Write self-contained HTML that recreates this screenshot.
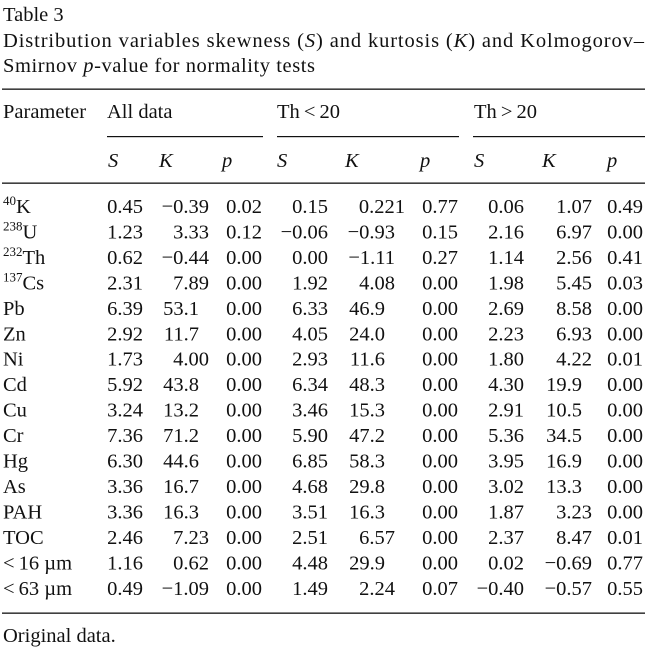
<!DOCTYPE html>
<html><head><meta charset="utf-8"><style>
html,body{margin:0;padding:0;background:#fff;}
svg{display:block;font-family:"Liberation Serif",serif;font-size:20.5px;fill:#111;}
.i{font-style:italic}
</style></head><body>
<svg width="660" height="656" viewBox="0 0 660 656" xmlns="http://www.w3.org/2000/svg">
<text x="3" y="21">Table 3</text>
<text x="3" y="47" textLength="641" lengthAdjust="spacing">Distribution variables skewness (<tspan class="i">S</tspan>) and kurtosis (<tspan class="i">K</tspan>) and Kolmogorov–</text>
<text x="3" y="72" textLength="312" lengthAdjust="spacing">Smirnov <tspan class="i">p</tspan>-value for normality tests</text>
<rect x="2" y="88.5" width="643" height="1.3" fill="#111"/>
<text x="3" y="118">Parameter</text>
<text x="107" y="118">All data</text>
<text x="277" y="118">Th&#8201;&lt;&#8201;20</text>
<text x="474" y="118">Th&#8201;&gt;&#8201;20</text>
<rect x="107" y="136" width="156" height="1.2" fill="#111"/>
<rect x="277" y="136" width="182" height="1.2" fill="#111"/>
<rect x="473" y="136" width="172" height="1.2" fill="#111"/>
<g class="i">
<text x="108" y="167">S</text><text x="159" y="167">K</text><text x="222" y="167">p</text>
<text x="277" y="167">S</text><text x="345" y="167">K</text><text x="420" y="167">p</text>
<text x="474" y="167">S</text><text x="542" y="167">K</text><text x="607" y="167">p</text>
</g>
<rect x="2" y="182.5" width="643" height="1.3" fill="#111"/>
<g id="rows"></g>
<rect x="2" y="612.5" width="643" height="1.3" fill="#111"/>
<text x="3" y="642">Original data.</text>
</svg>
<script>
var labels=['<tspan font-size="13" dy="-8">40</tspan><tspan dy="8">K</tspan>','<tspan font-size="13" dy="-8">238</tspan><tspan dy="8">U</tspan>','<tspan font-size="13" dy="-8">232</tspan><tspan dy="8">Th</tspan>','<tspan font-size="13" dy="-8">137</tspan><tspan dy="8">Cs</tspan>','Pb','Zn','Ni','Cd','Cu','Cr','Hg','As','PAH','TOC','&lt;&#8201;16 µm','&lt;&#8201;63 µm'];
var d=[
['0.45','−0.39','0.02','0.15','0.221','0.77','0.06','1.07','0.49'],
['1.23','3.33','0.12','−0.06','−0.93','0.15','2.16','6.97','0.00'],
['0.62','−0.44','0.00','0.00','−1.11','0.27','1.14','2.56','0.41'],
['2.31','7.89','0.00','1.92','4.08','0.00','1.98','5.45','0.03'],
['6.39','53.1','0.00','6.33','46.9','0.00','2.69','8.58','0.00'],
['2.92','11.7','0.00','4.05','24.0','0.00','2.23','6.93','0.00'],
['1.73','4.00','0.00','2.93','11.6','0.00','1.80','4.22','0.01'],
['5.92','43.8','0.00','6.34','48.3','0.00','4.30','19.9','0.00'],
['3.24','13.2','0.00','3.46','15.3','0.00','2.91','10.5','0.00'],
['7.36','71.2','0.00','5.90','47.2','0.00','5.36','34.5','0.00'],
['6.30','44.6','0.00','6.85','58.3','0.00','3.95','16.9','0.00'],
['3.36','16.7','0.00','4.68','29.8','0.00','3.02','13.3','0.00'],
['3.36','16.3','0.00','3.51','16.3','0.00','1.87','3.23','0.00'],
['2.46','7.23','0.00','2.51','6.57','0.00','2.37','8.47','0.01'],
['1.16','0.62','0.00','4.48','29.9','0.00','0.02','−0.69','0.77'],
['0.49','−1.09','0.00','1.49','2.24','0.07','−0.40','−0.57','0.55']];
var xs=[143,209,262,328,395,458,524,592,643];
var g=document.getElementById('rows'),h='';
for(var r=0;r<16;r++){var y=213+r*25.45;
h+='<text x="3" y="'+y+'">'+labels[r]+'</text>';
for(var c=0;c<9;c++){var v=d[r][c],x=xs[c];var dec=v.length-v.indexOf('.')-1;x+=(dec-2)*10;
h+='<text x="'+x+'" y="'+y+'" text-anchor="end">'+v+'</text>';}}
g.innerHTML=h;
</script>
</body></html>
